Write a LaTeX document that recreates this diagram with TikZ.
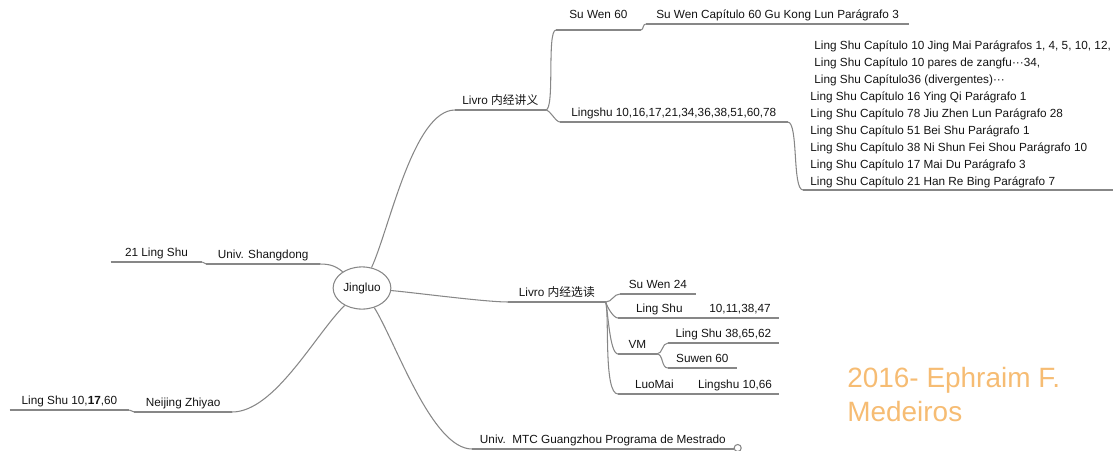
\documentclass[tikz,border=0pt]{standalone}
\usepackage{fontspec}
\setmainfont{Liberation Sans}
\newfontfamily\cjk{Noto Sans CJK SC}
\usetikzlibrary{shapes.geometric}
\definecolor{linegray}{RGB}{135,135,135}
\definecolor{textgray}{RGB}{20,20,20}
\definecolor{signorange}{RGB}{246,188,115}

\begin{document}
\begin{tikzpicture} [
						x=0.02cm, y=-0.02cm,
						font=\fontsize{6.7}{8}\selectfont,
						text=textgray,
						every edge/.style={draw=linegray, line width=0.6pt},
						central/.style={ellipse, draw=linegray, line width=0.6pt, minimum width=31pt, minimum height=24pt, inner sep=1pt},
						topic/.style={anchor=south west, inner xsep=0pt, inner ysep=2.8pt, text depth=0pt, minimum width=#1*0.02cm,
							append after command={(\tikzlastnode.south west) edge (\tikzlastnode.south east)}},
						lefttopic/.style={topic=#1, anchor=south east}
					]

\useasboundingbox (0,0) rectangle (1113,450);

\node (jingluo) [central] at (362,288) {Jingluo};

\node (livro1) [topic=90] at (455,110) {Livro {\cjk 内经讲义}};
\node (suwen60) [topic=84, inner ysep=6.2pt] at (556,30) {Su Wen 60};
\node (suwencap) [topic=263] at ([shift={(5,-6)}]suwen60.south east) {Su Wen Capítulo 60 Gu Kong Lun Parágrafo 3};
\node (lingshu1) [topic=227] at (560,122) {Lingshu 10,16,17,21,34,36,38,51,60,78};
\node (capitulos) [topic=310, align=left, inner xsep=4pt, inner ysep=2.3pt, font=\fontsize{6.7}{9.7}\selectfont] at (803,190)
	{\hspace*{2.3pt}Ling Shu Capítulo 10 Jing Mai Parágrafos 1, 4, 5, 10, 12,\\
	 \hspace*{2.3pt}Ling Shu Capítulo 10 pares de zangfu···34,\\
	 \hspace*{2.3pt}Ling Shu Capítulo36 (divergentes)···\\
	 Ling Shu Capítulo 16 Ying Qi Parágrafo 1\\
	 Ling Shu Capítulo 78 Jiu Zhen Lun Parágrafo 28\\
	 Ling Shu Capítulo 51 Bei Shu Parágrafo 1\\
	 Ling Shu Capítulo 38 Ni Shun Fei Shou Parágrafo 10\\
	 Ling Shu Capítulo 17 Mai Du Parágrafo 3\\
	 Ling Shu Capítulo 21 Han Re Bing Parágrafo 7};

\node (shandong) [lefttopic=113] at (320,264) {Univ. Shangdong};
\node (ls21) [lefttopic=91] at ([shift={(-4,-2)}]shandong.south west) {21 Ling Shu};
\node (neijing) [lefttopic=97] at (232,412) {Neijing Zhiyao};
\node (ls17) [lefttopic=119] at ([shift={(-5,-2)}]neijing.south west) {Ling Shu 10,\textbf{17},60};

\node (livro2) [topic=97] at (508,302) {Livro {\cjk 内经选读}};
\node (suwen24) [topic=75] at (620,294) {Su Wen 24};
\node (lingshu2) [topic=82] at (618,318) {Ling Shu};
\node (n10) [topic=78] at (lingshu2.south east) {10,11,38,47};
\node (vm) [topic=38] at (618,354) {VM};
\node (ls38) [topic=110] at (668,343) {Ling Shu 38,65,62};
\node (suwen60b) [topic=68] at (668,368) {Suwen 60};
\node (luomai) [topic=72] at (618,394) {LuoMai};
\node (ls1066) [topic=88] at (luomai.south east) {Lingshu 10,66};
\node (guangzhou) [topic=261] at (472,449) {Univ.\ \ MTC Guangzhou Programa de Mestrado};

\node (autor) [anchor=south west, align=left, inner sep=0pt, text depth=0pt, text=signorange, font=\fontsize{15.9}{19.5}\selectfont] at (847,422) {2016- Ephraim F.\\Medeiros};

\path
	(jingluo) edge[out=65, in=180, looseness=.6] (livro1.south west)
	(livro1.south east) edge[out=0, in=180, looseness=.3] (suwen60.south west)
	(suwen60.south east) edge[out=0, in=180] (suwencap.south west)
	(livro1.south east) edge[out=0, in=180, looseness=.6] (lingshu1.south west)
	(lingshu1.south east) edge[out=0, in=180, looseness=.4] (capitulos.south west)
	(jingluo) edge[out=140, in=0] (shandong.south east)
	(shandong.south west) edge[out=180, in=0] (ls21.south east)
	(jingluo) edge[out=-135, in=0, looseness=.7] (neijing.south east)
	(neijing.south west) edge[out=180, in=0] (ls17.south east)
	(jingluo) edge[out=-5, in=180, looseness=.5] (livro2.south west)
	(livro2.south east) edge[out=0, in=180] (suwen24.south west)
	(livro2.south east) edge[out=-75, in=180, looseness=.6] (lingshu2.south west)
	(livro2.south east) edge[out=-75, in=180, looseness=.4] (vm.south west)
	(livro2.south east) edge[out=-75, in=180, looseness=.4] (luomai.south west)
	(vm.south east) edge[out=0, in=180] (ls38.south west)
	(vm.south east) edge[out=0, in=180] (suwen60b.south west)
	(jingluo) edge[out=-58, in=180, looseness=.6] (guangzhou.south west);

\draw[draw=linegray, line width=0.6pt, fill=white] ([shift={(4,-1)}]guangzhou.south east) circle[radius=2pt];
\end{tikzpicture}
\end{document}
